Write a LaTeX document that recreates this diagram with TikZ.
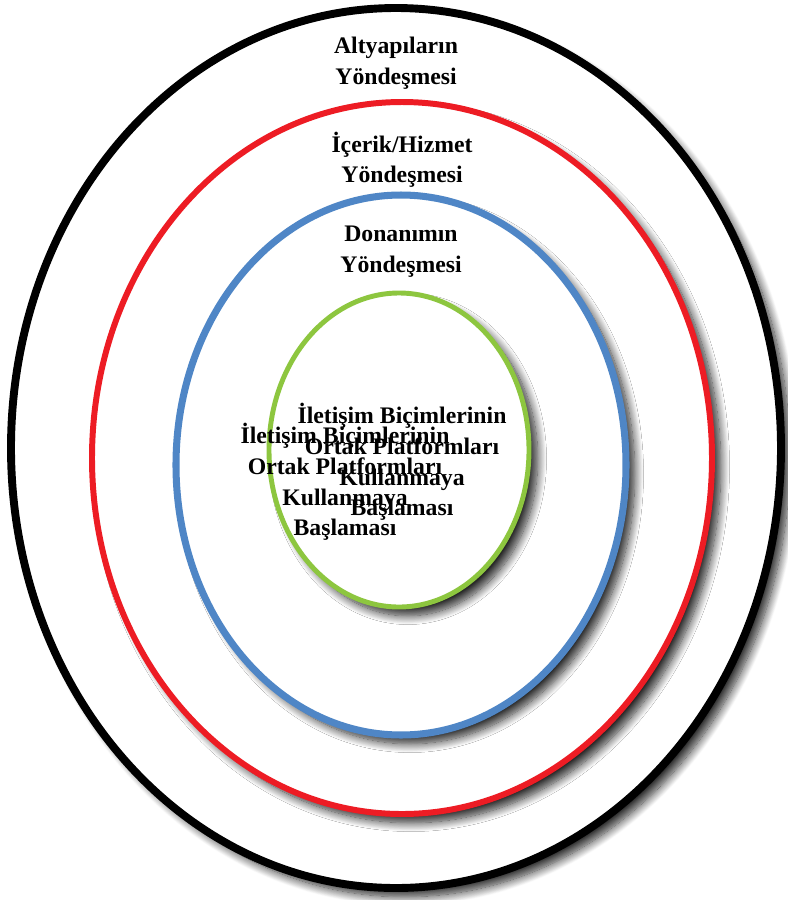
\documentclass[tikz,border=0pt]{standalone}
\usepackage{fontspec}
\setmainfont{Liberation Serif}
\usepackage{tikz}
\usetikzlibrary{shapes.geometric, positioning, shadows.blur}
\definecolor{ringred}{RGB}{237,28,36}
\definecolor{ringblue}{RGB}{79,134,198}
\definecolor{ringgreen}{RGB}{141,198,63}
\tikzset{
ring/.style={ellipse, fill=white, inner sep=0pt, blur shadow={shadow xshift=5pt, shadow yshift=-5pt, shadow blur steps=14, shadow blur radius=5pt, shadow opacity=85}}, % one layer of the model
layer/.style={font=\fontsize{13.5}{17.5}\selectfont\bfseries, align=center, inner sep=0pt}, % names of the layers
}

\begin{document}
\begin{tikzpicture}
    \useasboundingbox (0,0) rectangle (15.76,-18);

    \node[ring, draw=black, line width=4.5pt, minimum width=15.4cm, minimum height=17.6cm] (infra) at (7.92,-8.96) {};
    \node[ring, draw=ringred, line width=3.4pt, minimum width=12.4cm, minimum height=14.24cm] (service) at (8.04,-9.16) {};
    \node[ring, draw=ringblue, line width=4pt, minimum width=9.0cm, minimum height=10.8cm] (device) at (8.02,-9.30) {};
    \node[ring, draw=ringgreen, line width=2.8pt, minimum width=5.2cm, minimum height=6.28cm] (core) at (7.98,-9.00) {};

    \node[layer, below=0.65cm of infra.north] (infraname) {Altyapıların\\Yöndeşmesi};
    \node[layer, below=0.65cm of service.north] (servicename) {İçerik/Hizmet\\Yöndeşmesi};
    \node[layer, below=0.69cm of device.north] (devicename) {Donanımın\\Yöndeşmesi};

    \node[layer, xshift=0.06cm, yshift=-0.24cm] (corename) at (core) {İletişim Biçimlerinin\\Ortak Platformları\\Kullanmaya\\Başlaması};
    \node[layer, xshift=-1.08cm, yshift=-0.64cm] (corenamecopy) at (core) {İletişim Biçimlerinin\\Ortak Platformları\\Kullanmaya\\Başlaması};
\end{tikzpicture}
\end{document}
